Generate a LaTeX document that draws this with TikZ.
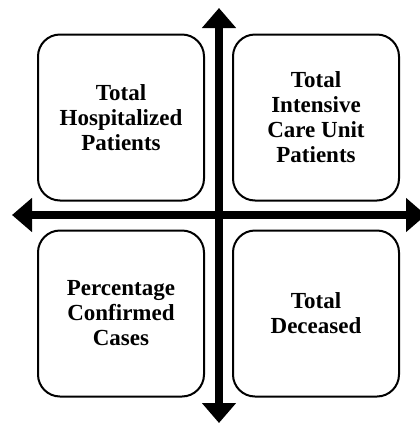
\documentclass[tikz,border=0pt]{standalone}
\usepackage{fontspec}
\setmainfont{Liberation Serif}
\usetikzlibrary{arrows.meta}
\begin{document}
\begin{tikzpicture}[x=1pt,y=-1pt,
  quad/.style={draw, line width=2pt, rounded corners=22pt, minimum width=166pt, minimum height=166pt,
    align=center, inner sep=0pt, font=\fontsize{23}{25}\selectfont\bfseries},
  axis/.style={line width=8pt, {Triangle[width=33pt,length=20pt]}-{Triangle[width=33pt,length=20pt]}}]
\useasboundingbox (0,0) rectangle (420,424);
\clip (0,0) rectangle (420,424);
\node[quad] (tl) at (121,117.5) {Total\\Hospitalized\\Patients};
\node[quad] (tr) at (316,117.5) {Total\\Intensive\\Care Unit\\Patients};
\node[quad] (bl) at (121,313.5) {Percentage\\Confirmed\\Cases};
\node[quad] (br) at (316,313.5) {Total\\Deceased};
\coordinate (top) at (219,8);
\coordinate (bottom) at (219,423);
\coordinate (left) at (12,215);
\coordinate (right) at (426,215);
\draw[axis] (top) -- (bottom);
\draw[axis] (left) -- (right);
\end{tikzpicture}
\end{document}
